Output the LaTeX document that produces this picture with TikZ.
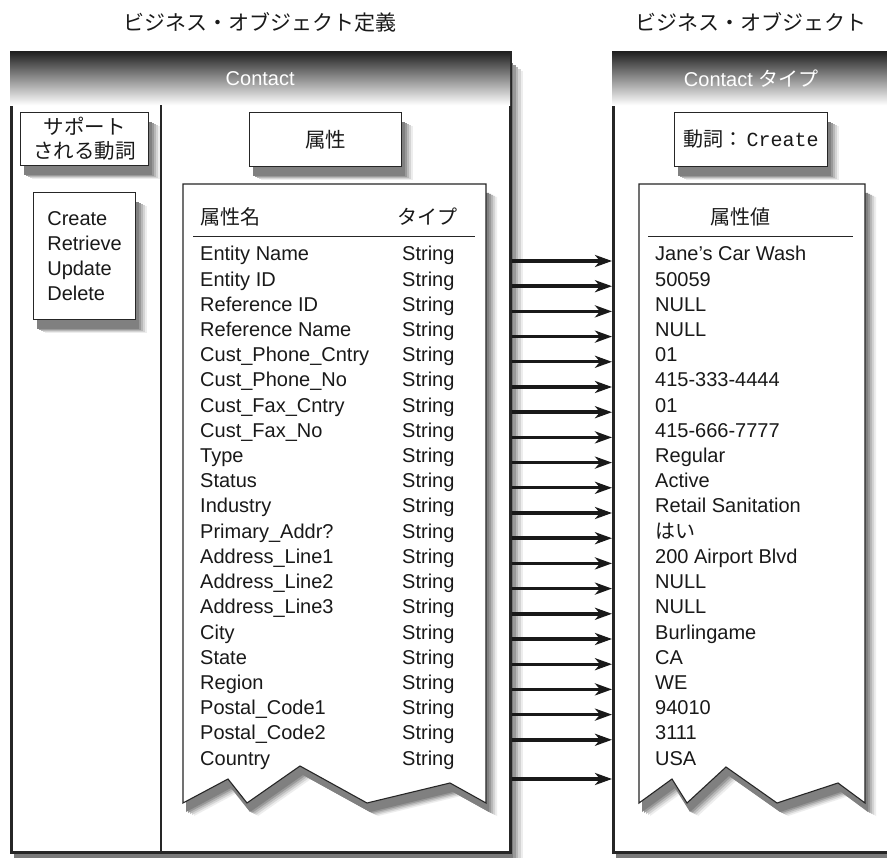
\documentclass[tikz,border=0pt]{standalone}
\usepackage{fontspec}
\setmainfont{Liberation Sans}
\newfontfamily\jp{Noto Sans CJK JP}
\newfontfamily\mono{Liberation Mono}
\usetikzlibrary{positioning, arrows.meta, shadows}
\newcommand\bodyfont{\fontsize{20}{25}\selectfont}
\newcommand\titlefont{\fontsize{21}{25}\selectfont\jp}

% torn sheets of the two tables
\newcommand\defsheet{(183,184) -- (486,184) -- (486,803) -- (450,783) -- (367,803) -- (300,766) -- (247,803) -- (228,779) -- (183,803) -- cycle}
\newcommand\objsheet{(639,184) -- (865,184) -- (865,803) -- (838,783) -- (777,803) -- (726,767) -- (687,803) -- (672,779) -- (639,803) -- cycle}

\begin{document}
\begin{tikzpicture}[x=1pt, y=-1pt, font=\bodyfont, text=black!90,
    deep shade/.style={
      general shadow={fill=black!7, shadow xshift=13pt, shadow yshift=-19pt},
      general shadow={fill=black!17, shadow xshift=10.5pt, shadow yshift=-17pt},
      general shadow={fill=black!28, shadow xshift=8pt, shadow yshift=-15pt},
      general shadow={fill=black!40, shadow xshift=5.5pt, shadow yshift=-13pt},
      general shadow={fill=black!52, shadow xshift=3pt, shadow yshift=-11pt}},
    soft shade/.style={
      general shadow={fill=black!7, shadow xshift=11pt, shadow yshift=-13pt},
      general shadow={fill=black!17, shadow xshift=9pt, shadow yshift=-12pt},
      general shadow={fill=black!28, shadow xshift=7pt, shadow yshift=-11pt},
      general shadow={fill=black!40, shadow xshift=5pt, shadow yshift=-10pt},
      general shadow={fill=black!50, shadow xshift=3pt, shadow yshift=-9pt}},
    frame/.style={draw=black!85, line width=2.6pt, fill=white, inner sep=0pt, anchor=north west, deep shade},
    header/.style={top color=black!88, bottom color=white, text=white, inner sep=0pt,
      anchor=north west, minimum height=54pt},
    box/.style={draw=black!85, line width=1.1pt, fill=white, inner sep=0pt, anchor=north west, soft shade},
    sheet/.style={draw=black!85, line width=1.1pt, fill=white, soft shade},
    cell/.style={anchor=base west, inner sep=0pt},
    title/.style={font=\titlefont},
    rule/.style={draw=black!85, line width=1pt},
    feed/.style={-{Stealth[length=17pt, width=12pt, inset=5pt]}, line width=3.4pt, black!90}]

  \clip (0,0) rectangle (887,858);
  \useasboundingbox (0,0) rectangle (887,858);

  % titles
  \node[title] (deftitle) at (260,22) {ビジネス・オブジェクト定義};
  \node[title] (objtitle) at (751,22) {ビジネス・オブジェクト};

  % the two frames
  \node[frame, minimum width=499pt, minimum height=800pt] (defbox) at (10,51) {};
  \node[frame, minimum width=278pt, minimum height=800pt] (objbox) at (612,51) {};
  \node[header, minimum width=500pt] (defhead) at (10,51) {Contact};
  \node[header, minimum width=278pt] (objhead) at (612,51) {Contact {\jp タイプ}};
  \draw[rule, line width=1.4pt] ([xshift=151pt]defhead.south west) -- ([xshift=151pt]defbox.south west);

  % verbs
  \node[box, minimum width=128pt, minimum height=53pt, align=center,
    font=\fontsize{20.5}{24}\selectfont\jp] (verbhead) at (20,112) {サポート\\される動詞};
  \node[box, minimum width=102pt, minimum height=127pt, align=left] (verbs) at (33,192)
    {Create\\Retrieve\\Update\\Delete};
  \node[box, minimum width=152pt, minimum height=54pt, font=\fontsize{20.5}{24}\selectfont\jp] (attrhead) at (249,112) {属性};
  \node[box, minimum width=153pt, minimum height=54pt] (verbsel) at (674,112) {{\jp 動詞：}\,{\mono Create}};

  % tables
  \filldraw[sheet] \defsheet;
  \filldraw[sheet] \objsheet;
  \node[anchor=west, inner sep=0pt, font=\bodyfont\jp] (namecol) at (200,217) {属性名};
  \node[anchor=east, inner sep=0pt, font=\bodyfont\jp] (typecol) at (458,217) {タイプ};
  \node[inner sep=0pt, font=\bodyfont\jp] (valcol) at (740,217) {属性値};
  \draw[rule] (193,237) -- (475,237);
  \draw[rule] (648,237) -- (853,237);

  \foreach \attr/\val [count=\i] in {Entity Name/Jane's Car Wash, Entity ID/50059,
      Reference ID/NULL, Reference Name/NULL, Cust\_Phone\_Cntry/01,
      Cust\_Phone\_No/415-333-4444, Cust\_Fax\_Cntry/01, Cust\_Fax\_No/415-666-7777,
      Type/Regular, Status/Active, Industry/Retail Sanitation, Primary\_Addr?/{\jp はい},
      Address\_Line1/200 Airport Blvd, Address\_Line2/NULL, Address\_Line3/NULL,
      City/Burlingame, State/CA, Region/WE, Postal\_Code1/94010, Postal\_Code2/3111,
      Country/USA}{
    \pgfmathsetmacro\rowy{261+25.2*(\i-1)}
    \node[cell] (n\i) at (200,\rowy) {\attr};
    \node[cell] (t\i) at (402,\rowy) {String};
    \node[cell] (v\i) at (655,\rowy) {\val};
  }

  % mapping arrows
  \foreach \i in {1,...,21}{
    \pgfmathsetmacro\arry{\i<21 ? 261+25.2*(\i-1) : 779}
    \coordinate (lvl\i) at (560,\arry);
    \draw[feed] (defbox.east |- lvl\i) -- (objbox.west |- lvl\i);
  }
\end{tikzpicture}
\end{document}
